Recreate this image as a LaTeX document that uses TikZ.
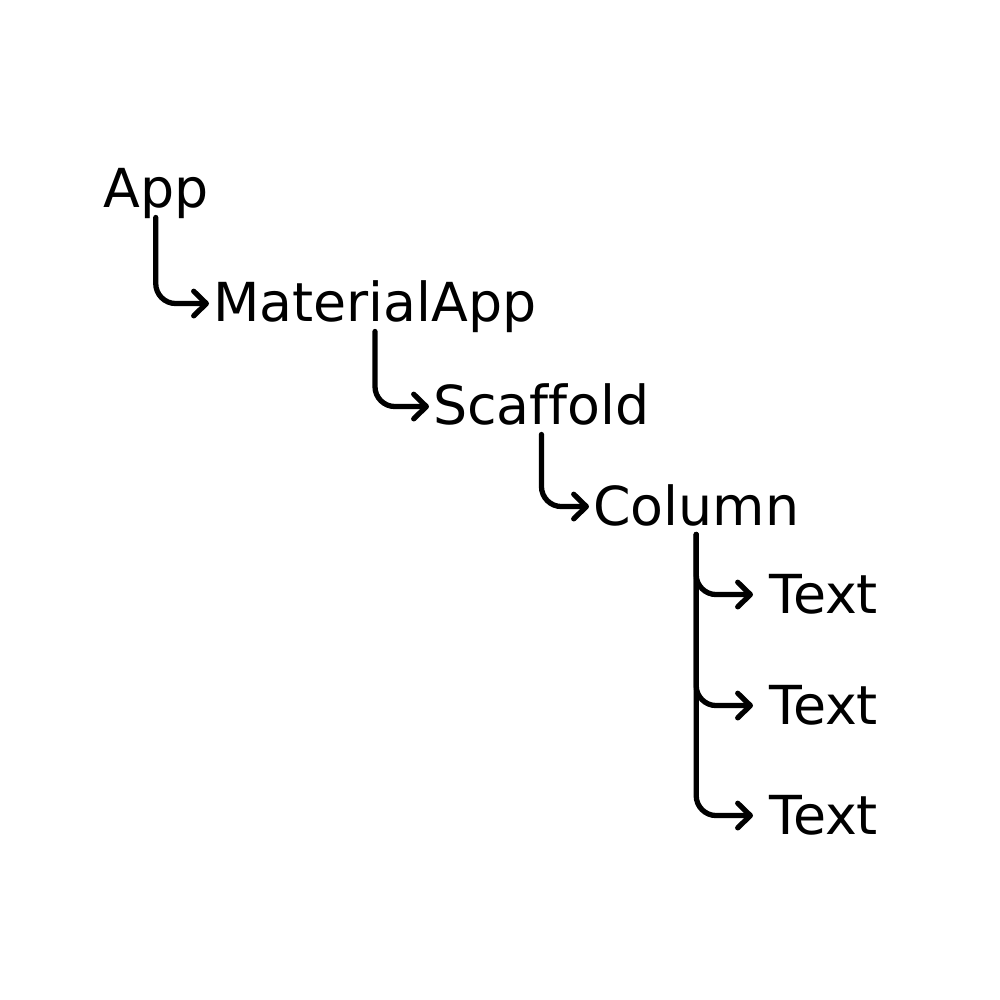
\documentclass[tikz,border=0pt]{standalone}
\usepackage{fontspec}
\setmainfont[Ligatures=NoCommon]{DejaVu Sans}
\usetikzlibrary{arrows.meta}
\begin{document}
\begin{tikzpicture}
[widgetdecorate/.style={anchor=base west,inner xsep=1pt,inner ysep=0.5pt,
   font=\fontsize{15.3}{18}\selectfont,text height=1.25em,text depth=0.2em},%
  linedecorate/.style={-{Straight Barb[length=3.6pt,width=7pt,line width=1.5pt,round]},
   line width=1.5pt,line cap=round,rounded corners=0.2cm}]
\useasboundingbox (0,0) rectangle (10,-10);
% widgets of the tree
\node (app) at (0.99,-2.08) [widgetdecorate] {App};
\node (material) at (2.09,-3.22) [widgetdecorate] {MaterialApp};
\node (scaffold) at (4.29,-4.25) [widgetdecorate] {Scaffold};
\node (column) at (5.89,-5.25) [widgetdecorate] {Column};
\node (text1) at (7.65,-6.13) [widgetdecorate] {Text};
\node (text2) at (7.65,-7.24) [widgetdecorate] {Text};
\node (text3) at (7.65,-8.34) [widgetdecorate] {Text};
% parent to child
\draw[linedecorate] (app.south) |- (material.west);
\draw[linedecorate] (material.south) |- (scaffold.west);
\draw[linedecorate] (scaffold.south) |- (column.west);
\draw[linedecorate,shorten >=0.12cm] (column.south) |- (text1.west);
\draw[linedecorate,shorten >=0.12cm] (column.south) |- (text2.west);
\draw[linedecorate,shorten >=0.12cm] (column.south) |- (text3.west);
\end{tikzpicture}
\end{document}
